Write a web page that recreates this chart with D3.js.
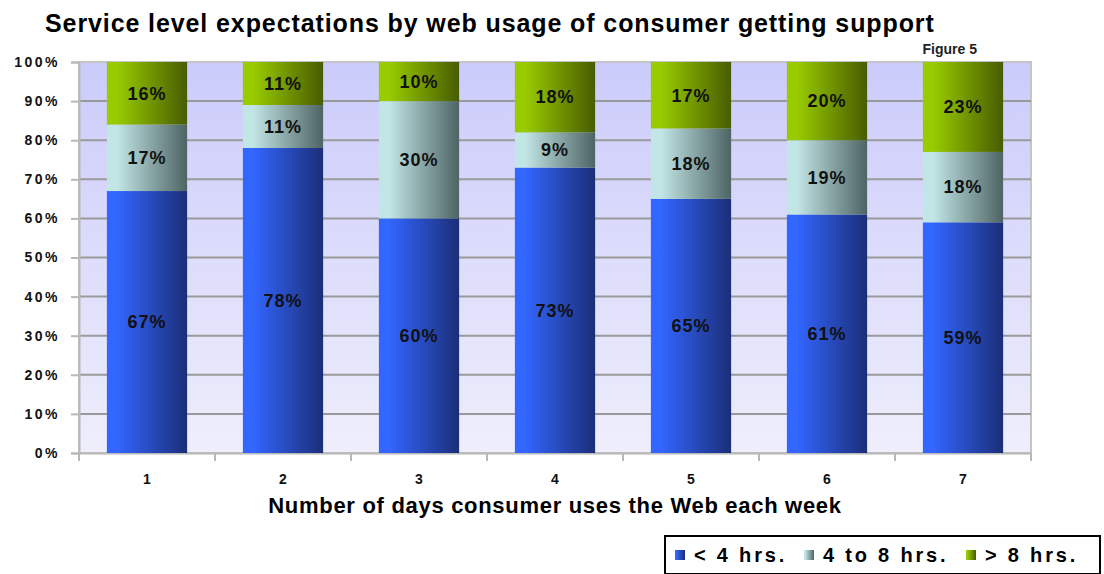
<!DOCTYPE html>
<html>
<head>
<meta charset="utf-8">
<script src="https://cdn.jsdelivr.net/npm/d3@7"></script>
<style>
  body { margin: 0; background: #fff; }
  svg { display: block; font-family: Arial, "Liberation Sans", sans-serif; }
</style>
</head>
<body>
<div id="chart"></div>
<script>
// chart data
const days = ['1', '2', '3', '4', '5', '6', '7'];
const seriesNames = ['< 4 hrs.', '4 to 8 hrs.', '> 8 hrs.'];
const under4 = [67, 78, 60, 73, 65, 61, 59];
const from4to8 = [17, 11, 30, 9, 18, 19, 18];
const over8 = [16, 11, 10, 18, 17, 20, 23];
const yTicks = [0, 10, 20, 30, 40, 50, 60, 70, 80, 90, 100];

const width = 1104, height = 574;
const margin = {left: 79, right: 73, top: 62, bottom: 121};
const plotW = width - margin.left - margin.right;
const plotH = height - margin.top - margin.bottom;

const svg = d3.select('#chart').append('svg')
  .attr('width', width)
  .attr('height', height);

const defs = svg.append('defs');

// background of plot
let bg = defs.append('linearGradient').attr('id', 'bg')
  .attr('x1', 0).attr('y1', 0).attr('x2', 0).attr('y2', 1);
bg.append('stop').attr('offset', '0%').attr('stop-color', '#cbcbfb');
bg.append('stop').attr('offset', '100%').attr('stop-color', '#eeeefc');

// bar gradients, light left to dark right
const grads = [
  ['#3366ff', '#1b2e78'],
  ['#c2e6e6', '#4f6464'],
  ['#99cc00', '#485c00']
];
grads.forEach((g, i) => {
  let lg = defs.append('linearGradient').attr('id', 'g' + i)
    .attr('x1', 0).attr('y1', 0).attr('x2', 1).attr('y2', 0);
  lg.append('stop').attr('offset', '0%').attr('stop-color', g[0]);
  lg.append('stop').attr('offset', '12%').attr('stop-color', g[0]);
  lg.append('stop').attr('offset', '100%').attr('stop-color', g[1]);
});

const xScale = d3.scaleBand().domain(days).range([0, plotW]).paddingInner(0.41).paddingOuter(0.205);
const yScale = d3.scaleLinear().domain([0, 100]).range([plotH, 0]);

// title
svg.append('text')
  .attr('x', 45).attr('y', 32)
  .attr('font-size', 25).attr('font-weight', 'bold')
  .attr('letter-spacing', 0.9)
  .text('Service level expectations by web usage of consumer getting support');

svg.append('text')
  .attr('x', 977).attr('y', 54)
  .attr('text-anchor', 'end')
  .attr('font-size', 14).attr('font-weight', 'bold')
  .attr('fill', '#222')
  .text('Figure 5');

const g = svg.append('g').attr('transform', `translate(${margin.left},${margin.top})`);

g.append('rect')
  .attr('width', plotW).attr('height', plotH)
  .attr('fill', 'url(#bg)')
  .attr('stroke', '#c4c4c4').attr('stroke-width', 2);

// gridlines
g.selectAll('.grid')
  .data(yTicks.slice(1, -1))
  .enter()
  .append('line')
  .attr('class', 'grid')
  .attr('x1', 0).attr('x2', plotW)
  .attr('y1', (d) => yScale(d)).attr('y2', (d) => yScale(d))
  .attr('stroke', '#9a9a9a').attr('stroke-width', 2);

// y axis
let yAxis = d3.axisLeft(yScale).tickValues(yTicks).tickSize(8).tickFormat((t) => t + '%');
let gY = g.append('g').call(yAxis);
gY.select('.domain').attr('stroke', '#b8b8b8').attr('stroke-width', 2);
gY.selectAll('.tick line').attr('stroke', '#b8b8b8').attr('stroke-width', 2);
gY.selectAll('.tick text')
  .attr('font-size', 14).attr('font-weight', 'bold')
  .attr('letter-spacing', 2.5)
  .attr('font-family', 'Arial, "Liberation Sans", sans-serif')
  .attr('fill', '#111')
  .attr('x', -19);

// x axis, ticks sit between the categories
let xAxis = d3.axisBottom(xScale).tickSize(0).tickFormat((t) => t);
let gX = g.append('g').attr('transform', `translate(0,${plotH})`).call(xAxis);
gX.select('.domain').attr('stroke', '#b8b8b8').attr('stroke-width', 2);
gX.selectAll('.tick text')
  .attr('font-size', 14).attr('font-weight', 'bold')
  .attr('font-family', 'Arial, "Liberation Sans", sans-serif')
  .attr('fill', '#111')
  .attr('y', 21);
gX.selectAll('.sep')
  .data(d3.range(days.length + 1))
  .enter()
  .append('line')
  .attr('class', 'sep')
  .attr('x1', (i) => i * xScale.step()).attr('x2', (i) => i * xScale.step())
  .attr('y1', 0).attr('y2', 8)
  .attr('stroke', '#b8b8b8').attr('stroke-width', 2);

// stacked bars
const rows = days.map((d, i) => ({day: d, a: under4[i], b: from4to8[i], c: over8[i]}));
const stack = d3.stack().keys(['a', 'b', 'c'])(rows);

stack.forEach((layer, li) => {
  let lg = g.append('g');
  lg.selectAll('rect')
    .data(layer)
    .enter()
    .append('rect')
    .attr('x', (d) => xScale(d.data.day))
    .attr('y', (d) => yScale(d[1]))
    .attr('width', xScale.bandwidth())
    .attr('height', (d) => yScale(d[0]) - yScale(d[1]))
    .attr('fill', `url(#g${li})`);
  lg.selectAll('text')
    .data(layer)
    .enter()
    .append('text')
    .attr('x', (d) => xScale(d.data.day) + xScale.bandwidth() / 2)
    .attr('y', (d) => yScale((d[0] + d[1]) / 2))
    .attr('dy', '0.35em')
    .attr('text-anchor', 'middle')
    .attr('font-size', 18).attr('font-weight', 'bold')
    .attr('letter-spacing', 1)
    .attr('fill', '#111')
    .text((d) => (d[1] - d[0]) + '%');
});

// axis title
svg.append('text')
  .attr('x', 555).attr('y', 513)
  .attr('text-anchor', 'middle')
  .attr('font-size', 22).attr('font-weight', 'bold')
  .attr('letter-spacing', 0.7)
  .text('Number of days consumer uses the Web each week');

// legend
const legend = svg.append('g').attr('transform', 'translate(664,535)');
legend.append('rect')
  .attr('x', 1).attr('y', 1).attr('width', 435).attr('height', 38)
  .attr('fill', '#fff').attr('stroke', '#000').attr('stroke-width', 2);
const legX = [11, 140, 302];
seriesNames.forEach((name, i) => {
  legend.append('rect')
    .attr('x', legX[i]).attr('y', 15)
    .attr('width', 10).attr('height', 10)
    .attr('fill', `url(#g${i})`);
  legend.append('text')
    .attr('x', legX[i] + 19).attr('y', 27)
    .attr('font-size', 20).attr('font-weight', 'bold')
    .attr('letter-spacing', 2.8)
    .text(name);
});
</script>
</body>
</html>
